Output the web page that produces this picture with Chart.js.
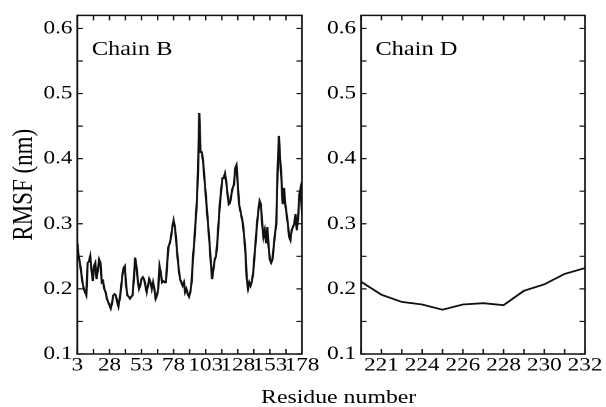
<!DOCTYPE html>
<html>
<head>
<meta charset="utf-8">
<script src="https://cdn.jsdelivr.net/npm/chart.js@4.4.1/dist/chart.umd.min.js"></script>
<style>
  html, body { margin: 0; padding: 0; background: #fff; overflow: hidden; }
  /* the figure is drawn a bit narrow and stretched sideways, like the source image */
  #stage { position: relative; width: 497px; height: 407px; transform: scaleX(1.22); transform-origin: 0 0; }
  #stage canvas { position: absolute; top: 0; }
  #chainB { left: 0; }
  #chainD { left: 260px; }
  #xtitle {
    position: absolute; left: 177.6px; width: 200px; top: 387px;
    text-align: center; font: 19.5px "Liberation Serif", "Times New Roman", serif;
    line-height: 19px; color: #000; white-space: nowrap;
  }
</style>
</head>
<body>
<div id="stage">
  <canvas id="chainB" width="285" height="407"></canvas>
  <canvas id="chainD" width="237" height="407"></canvas>
  <div id="xtitle">Residue number</div>
</div>
<script>
// Chain B, residues 3..178, RMSF in nm
const firstResidueB = 3;
const rmsfB = [
  0.27, 0.25, 0.24, 0.225, 0.21, 0.2, 0.195, 0.19, 0.24, 0.242,
  0.25, 0.23, 0.212, 0.235, 0.24, 0.215, 0.23, 0.245, 0.24, 0.21,
  0.212, 0.2, 0.195, 0.185, 0.18, 0.175, 0.17, 0.178, 0.19, 0.192,
  0.19, 0.18, 0.173, 0.185, 0.2, 0.22, 0.232, 0.235, 0.205, 0.19,
  0.188, 0.185, 0.188, 0.19, 0.215, 0.248, 0.235, 0.215, 0.2, 0.205,
  0.215, 0.218, 0.215, 0.205, 0.195, 0.205, 0.215, 0.21, 0.2, 0.21,
  0.2, 0.185, 0.19, 0.2, 0.235, 0.225, 0.21, 0.212, 0.21, 0.21,
  0.24, 0.265, 0.27, 0.28, 0.295, 0.305, 0.295, 0.275, 0.25, 0.23,
  0.215, 0.21, 0.205, 0.21, 0.195, 0.2, 0.192, 0.188, 0.195, 0.21,
  0.245, 0.27, 0.3, 0.33, 0.38, 0.47, 0.41, 0.41, 0.395, 0.37,
  0.345, 0.32, 0.295, 0.27, 0.24, 0.215, 0.23, 0.245, 0.25, 0.27,
  0.3, 0.33, 0.35, 0.37, 0.37, 0.377, 0.365, 0.345, 0.33, 0.332,
  0.345, 0.355, 0.36, 0.385, 0.39, 0.36, 0.33, 0.32, 0.31, 0.3,
  0.28, 0.255, 0.215, 0.2, 0.21, 0.205, 0.212, 0.225, 0.25, 0.275,
  0.3, 0.32, 0.335, 0.33, 0.3, 0.28, 0.29, 0.27, 0.295, 0.265,
  0.245, 0.24, 0.245, 0.265, 0.285, 0.3, 0.38, 0.435, 0.4, 0.37,
  0.33, 0.355, 0.33, 0.315, 0.3, 0.28, 0.275, 0.29, 0.295, 0.3,
  0.315, 0.29, 0.31, 0.345, 0.355, 0.315
];
const residuesB = rmsfB.map((_, i) => firstResidueB + i);

// Chain D
const residuesD = ['220', '221', '222', '224', '225', '226', '227', '228', '229', '230', '231', '232'];
const rmsfD = [0.211, 0.191, 0.18, 0.176, 0.168, 0.176, 0.178, 0.175, 0.197, 0.207, 0.223, 0.232];

// tick marks (minor + major), labels only on majors
const xTicksB = [3, 15.5, 28, 40.5, 53, 65.5, 78, 90.5, 103, 115.5, 128, 140.5, 153, 165.5, 178];
const xLabelsB = [3, 28, 53, 78, 103, 128, 153, 178];
const yTicks = [0.1, 0.15, 0.2, 0.25, 0.3, 0.35, 0.4, 0.45, 0.5, 0.55, 0.6];

const FONT = '"Liberation Serif", "Times New Roman", serif';
Chart.defaults.font.family = FONT;
Chart.defaults.color = '#000';

// frame, inward ticks on all four sides, and the panel label
const frameTicks = {
  id: 'frameTicks',
  afterDatasetsDraw(chart, args, opts) {
    const { ctx, chartArea: a, scales: { x, y } } = chart;
    ctx.save();
    ctx.strokeStyle = '#111';
    ctx.lineWidth = 1.2;
    ctx.beginPath();
    x.ticks.forEach((t, i) => {
      const px = x.getPixelForTick(i);
      ctx.moveTo(px, a.bottom); ctx.lineTo(px, a.bottom - 5);
      ctx.moveTo(px, a.top); ctx.lineTo(px, a.top + 5);
    });
    y.ticks.forEach((t, i) => {
      const py = y.getPixelForTick(i);
      ctx.moveTo(a.left, py); ctx.lineTo(a.left + 4.5, py);
      ctx.moveTo(a.right, py); ctx.lineTo(a.right - 4.5, py);
    });
    ctx.stroke();
    ctx.lineWidth = 1.5;
    ctx.strokeRect(a.left, a.top, a.right - a.left, a.bottom - a.top);
    ctx.fillStyle = '#000';
    ctx.font = '20px ' + FONT;
    ctx.textBaseline = 'alphabetic';
    ctx.fillText(opts.label, a.left + 11.8, a.top + 39.5);
    ctx.restore();
  }
};

function yScale(width, withTitle) {
  return {
    min: 0.1,
    max: 0.62,
    afterBuildTicks: s => { s.ticks = yTicks.map(v => ({ value: v })); },
    afterFit: s => { s.width = width; },
    grid: { display: false, drawTicks: false },
    border: { display: false },
    title: {
      display: withTitle,
      text: 'RMSF (nm)',
      font: { size: 23 },
      padding: { top: 6, bottom: 0 }
    },
    ticks: {
      autoSkip: false,
      padding: 4,
      font: { size: 19 },
      callback: v => (Math.round(v * 100) % 10 === 0 ? v.toFixed(1) : '')
    }
  };
}

const lineStyle = {
  borderColor: '#111',
  borderWidth: 1.8,
  pointRadius: 0,
  tension: 0,
  fill: false
};

new Chart(document.getElementById('chainB'), {
  type: 'line',
  data: {
    datasets: [{
      ...lineStyle,
      data: residuesB.map((r, i) => ({ x: r, y: rmsfB[i] }))
    }]
  },
  options: {
    responsive: false,
    animation: false,
    devicePixelRatio: 2,
    layout: { padding: { top: 15, right: 37.5, left: 0, bottom: 0 } },
    plugins: { legend: { display: false }, tooltip: { enabled: false }, frameTicks: { label: 'Chain B' } },
    scales: {
      x: {
        type: 'linear',
        min: 3,
        max: 178,
        afterBuildTicks: s => { s.ticks = xTicksB.map(v => ({ value: v })); },
        afterFit: s => { s.height = 53; },
        grid: { display: false, drawTicks: false },
        border: { display: false },
        ticks: {
          autoSkip: false,
          maxRotation: 0,
          minRotation: 0,
          padding: 0,
          font: { size: 19 },
          callback: v => (xLabelsB.includes(v) ? String(v) : '')
        }
      },
      y: yScale(63.4, true)
    }
  },
  plugins: [frameTicks]
});

new Chart(document.getElementById('chainD'), {
  type: 'line',
  data: {
    labels: residuesD,
    datasets: [{ ...lineStyle, data: rmsfD }]
  },
  options: {
    responsive: false,
    animation: false,
    devicePixelRatio: 2,
    layout: { padding: { top: 15, right: 17.5, left: 0, bottom: 0 } },
    plugins: { legend: { display: false }, tooltip: { enabled: false }, frameTicks: { label: 'Chain D' } },
    scales: {
      x: {
        type: 'category',
        offset: false,
        afterFit: s => { s.height = 53; },
        grid: { display: false, drawTicks: false },
        border: { display: false },
        ticks: {
          autoSkip: false,
          maxRotation: 0,
          minRotation: 0,
          padding: 0,
          font: { size: 19 },
          callback: function (v, i) { return i % 2 === 1 ? this.getLabelForValue(v) : ''; }
        }
      },
      y: yScale(35.9, false)
    }
  },
  plugins: [frameTicks]
});
</script>
</body>
</html>
